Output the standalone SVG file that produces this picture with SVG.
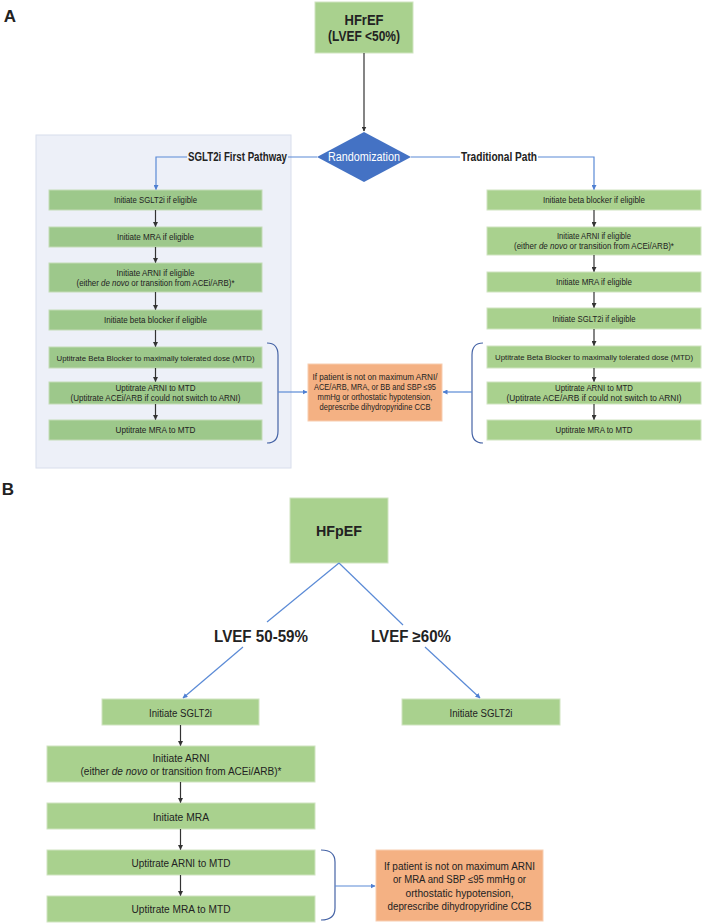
<svg xmlns="http://www.w3.org/2000/svg" width="702" height="924" viewBox="0 0 702 924">
<defs>
<marker id="ab" viewBox="0 0 10 10" refX="9" refY="5" markerWidth="5" markerHeight="5" orient="auto" markerUnits="userSpaceOnUse"><path d="M0,0 L10,5 L0,10 z" fill="#4F7FD2"/></marker>
<marker id="ad" viewBox="0 0 10 10" refX="9" refY="5" markerWidth="5" markerHeight="5" orient="auto" markerUnits="userSpaceOnUse"><path d="M0,0 L10,5 L0,10 z" fill="#333"/></marker>
<style>
text{font-family:"Liberation Sans",Arial,sans-serif;fill:#222;text-anchor:middle}
.g{fill:#A9D18E;stroke:#CFE4C0;stroke-width:1}
.gl{fill:#9DC88B;stroke:#C4DBB6;stroke-width:1}
.o{fill:#F4B183;stroke:#F8CDB0;stroke-width:1}
.s{font-size:8.5px}
.ss{font-size:8px}
.m{font-size:10px}
.b{font-weight:bold}
.bl{fill:none;stroke:#5A8AD6;stroke-width:1.2}
.bk{fill:none;stroke:#4664A6;stroke-width:1.2}
.dk{fill:none;stroke:#333;stroke-width:1.2}
</style>
</defs>
<rect width="702" height="924" fill="#fff"/>

<!-- Panel A -->
<text x="10" y="22" class="b" style="font-size:17px">A</text>
<rect id="panel" x="36" y="135" width="255" height="333" fill="#EDF0F8" stroke="#D8DEEC" stroke-width="1"/>

<g id="hfref"><rect x="315" y="2" width="98" height="51" class="g"/>
<text x="364" y="25" class="b" style="font-size:14px" textLength="39" lengthAdjust="spacingAndGlyphs">HFrEF</text>
<text x="364" y="41" class="b" style="font-size:14px" textLength="72" lengthAdjust="spacingAndGlyphs">(LVEF &lt;50%)</text></g>

<g id="rand"><polygon points="364,132 411,157 364,182 317,157" fill="#4472C4"/>
<text x="364" y="161" style="font-size:12px;fill:#fff" textLength="72" lengthAdjust="spacingAndGlyphs">Randomization</text></g>

<g id="labelsA">
<text x="237.5" y="161" class="b" style="font-size:12px" textLength="99" lengthAdjust="spacingAndGlyphs">SGLT2i First Pathway</text>
<text x="499" y="161" class="b" style="font-size:12px" textLength="76" lengthAdjust="spacingAndGlyphs">Traditional Path</text>
</g>

<!-- Left column -->
<g id="L1"><rect x="49" y="190" width="213" height="20" class="gl"/><text x="155.5" y="203" class="s" textLength="83" lengthAdjust="spacingAndGlyphs">Initiate SGLT2i if eligible</text></g>
<g id="L2"><rect x="49" y="227" width="213" height="20" class="gl"/><text x="155.5" y="240" class="s" textLength="77" lengthAdjust="spacingAndGlyphs">Initiate MRA if eligible</text></g>
<g id="L3"><rect x="49" y="263" width="213" height="29" class="gl"/><text x="155.5" y="276" class="s" textLength="78" lengthAdjust="spacingAndGlyphs">Initiate ARNI if eligible</text><text x="155.5" y="286" class="s" textLength="158" lengthAdjust="spacingAndGlyphs">(either <tspan font-style="italic">de novo</tspan> or transition from ACEi/ARB)*</text></g>
<g id="L4"><rect x="49" y="310" width="213" height="20" class="gl"/><text x="155.5" y="323" class="s" textLength="103" lengthAdjust="spacingAndGlyphs">Initiate beta blocker if eligible</text></g>
<g id="L5"><rect x="49" y="347" width="213" height="21" class="gl"/><text x="155.5" y="360.5" class="ss" textLength="198" lengthAdjust="spacingAndGlyphs">Uptitrate Beta Blocker to maximally tolerated dose (MTD)</text></g>
<g id="L6"><rect x="49" y="382" width="213" height="22" class="gl"/><text x="155.5" y="391" class="s" textLength="80" lengthAdjust="spacingAndGlyphs">Uptitrate ARNI to MTD</text><text x="155.5" y="400.5" class="s" textLength="170" lengthAdjust="spacingAndGlyphs">(Uptitrate ACEi/ARB if could not switch to ARNI)</text></g>
<g id="L7"><rect x="49" y="420" width="213" height="20" class="gl"/><text x="155.5" y="433" class="s" textLength="80" lengthAdjust="spacingAndGlyphs">Uptitrate MRA to MTD</text></g>

<!-- Right column -->
<g id="R1"><rect x="487" y="190" width="214" height="20" class="g"/><text x="594" y="203" class="s" textLength="102" lengthAdjust="spacingAndGlyphs">Initiate beta blocker if eligible</text></g>
<g id="R2"><rect x="487" y="227" width="214" height="28" class="g"/><text x="594" y="239" class="s" textLength="74" lengthAdjust="spacingAndGlyphs">Initiate ARNI if eligible</text><text x="594" y="249" class="s" textLength="160" lengthAdjust="spacingAndGlyphs">(either <tspan font-style="italic">de novo</tspan> or transition from ACEi/ARB)*</text></g>
<g id="R3"><rect x="487" y="272" width="214" height="20" class="g"/><text x="594" y="285" class="s" textLength="76" lengthAdjust="spacingAndGlyphs">Initiate MRA if eligible</text></g>
<g id="R4"><rect x="487" y="308" width="214" height="21" class="g"/><text x="594" y="321.5" class="s" textLength="83" lengthAdjust="spacingAndGlyphs">Initiate SGLT2i if eligible</text></g>
<g id="R5"><rect x="487" y="346" width="214" height="22" class="g"/><text x="594" y="360" class="ss" textLength="198" lengthAdjust="spacingAndGlyphs">Uptitrate Beta Blocker to maximally tolerated dose (MTD)</text></g>
<g id="R6"><rect x="487" y="382" width="214" height="22" class="g"/><text x="594" y="391" class="s" textLength="78" lengthAdjust="spacingAndGlyphs">Uptitrate ARNI to MTD</text><text x="594" y="400.5" class="s" textLength="175" lengthAdjust="spacingAndGlyphs">(Uptitrate ACE/ARB if could not switch to ARNI)</text></g>
<g id="R7"><rect x="487" y="420" width="214" height="20" class="g"/><text x="594" y="433" class="s" textLength="77" lengthAdjust="spacingAndGlyphs">Uptitrate MRA to MTD</text></g>

<g id="OA"><rect x="308" y="364" width="134" height="57" class="o"/>
<text x="375" y="380" style="font-size:8.5px" textLength="125" lengthAdjust="spacingAndGlyphs">If patient is not on maximum ARNI/</text>
<text x="375" y="390" style="font-size:8.5px" textLength="122" lengthAdjust="spacingAndGlyphs">ACE/ARB, MRA, or BB and SBP ≤95</text>
<text x="375" y="400" style="font-size:8.5px" textLength="115" lengthAdjust="spacingAndGlyphs">mmHg or orthostatic hypotension,</text>
<text x="375" y="410" style="font-size:8.5px" textLength="111" lengthAdjust="spacingAndGlyphs">deprescribe dihydropyridine CCB</text></g>

<!-- Panel B -->
<text x="8" y="495" class="b" style="font-size:17px">B</text>
<g id="hfpef"><rect x="290" y="498" width="98" height="65" class="g"/>
<text x="339" y="536" class="b" style="font-size:15px" textLength="46" lengthAdjust="spacingAndGlyphs">HFpEF</text></g>
<g id="labelsB">
<text x="261" y="642" class="b" style="font-size:16px" textLength="94" lengthAdjust="spacingAndGlyphs">LVEF 50-59%</text>
<text x="411" y="642" class="b" style="font-size:16px" textLength="80" lengthAdjust="spacingAndGlyphs">LVEF ≥60%</text>
</g>

<g id="B1"><rect x="102" y="699" width="157" height="26" class="g"/><text x="180.5" y="716.5" class="m" textLength="63" lengthAdjust="spacingAndGlyphs">Initiate SGLT2i</text></g>
<g id="B1r"><rect x="402" y="699" width="158" height="26" class="g"/><text x="481" y="716.5" class="m" textLength="63" lengthAdjust="spacingAndGlyphs">Initiate SGLT2i</text></g>
<g id="B2"><rect x="47" y="746" width="268" height="36" class="g"/><text x="181" y="761.5" class="m" textLength="57" lengthAdjust="spacingAndGlyphs">Initiate ARNI</text><text x="181" y="774.5" class="m" textLength="201" lengthAdjust="spacingAndGlyphs">(either <tspan font-style="italic">de novo</tspan> or transition from ACEi/ARB)*</text></g>
<g id="B3"><rect x="47" y="803" width="268" height="26" class="g"/><text x="181" y="820.5" class="m" textLength="56" lengthAdjust="spacingAndGlyphs">Initiate MRA</text></g>
<g id="B4"><rect x="47" y="850" width="268" height="25" class="g"/><text x="181" y="866.5" class="m" textLength="99" lengthAdjust="spacingAndGlyphs">Uptitrate ARNI to MTD</text></g>
<g id="B5"><rect x="47" y="896" width="268" height="26" class="g"/><text x="181" y="912.5" class="m" textLength="99" lengthAdjust="spacingAndGlyphs">Uptitrate MRA to MTD</text></g>

<g id="OB"><rect x="376" y="850" width="167" height="71" class="o"/>
<text x="459.5" y="869.5" class="m" textLength="151" lengthAdjust="spacingAndGlyphs">If patient is not on maximum ARNI</text>
<text x="459.5" y="883" class="m" textLength="133" lengthAdjust="spacingAndGlyphs">or MRA and SBP ≤95 mmHg or</text>
<text x="459.5" y="896.5" class="m" textLength="108" lengthAdjust="spacingAndGlyphs">orthostatic hypotension,</text>
<text x="459.5" y="910" class="m" textLength="144" lengthAdjust="spacingAndGlyphs">deprescribe dihydropyridine CCB</text></g>

<!-- Connectors -->
<g id="connectors">
<path class="dk" d="M364,53 V131" marker-end="url(#ad)"/>
<path class="bl" d="M317,157 H288 M187,157 H156 V189.5" marker-end="url(#ab)"/>
<path class="bl" d="M411,157 H460 M538,157 H594 V189.5" marker-end="url(#ab)"/>

<path class="dk" d="M155.5,210 V226.5" marker-end="url(#ad)"/>
<path class="dk" d="M155.5,247 V262.5" marker-end="url(#ad)"/>
<path class="dk" d="M155.5,292 V309.5" marker-end="url(#ad)"/>
<path class="dk" d="M155.5,330 V346.5" marker-end="url(#ad)"/>
<path class="dk" d="M155.5,368 V381.5" marker-end="url(#ad)"/>
<path class="dk" d="M155.5,404 V419.5" marker-end="url(#ad)"/>

<path class="dk" d="M594,210 V226.5" marker-end="url(#ad)"/>
<path class="dk" d="M594,255 V271.5" marker-end="url(#ad)"/>
<path class="dk" d="M594,292 V307.5" marker-end="url(#ad)"/>
<path class="dk" d="M594,329 V345.5" marker-end="url(#ad)"/>
<path class="dk" d="M594,368 V381.5" marker-end="url(#ad)"/>
<path class="dk" d="M594,404 V419.5" marker-end="url(#ad)"/>

<path class="bk" d="M267,343 Q278,343 278,355 V431 Q278,443 267,443"/>
<path class="bl" d="M278,392 H307" marker-end="url(#ab)"/>
<path class="bk" d="M483,343 Q472,343 472,355 V431 Q472,443 483,443"/>
<path class="bl" d="M472,392 H443" marker-end="url(#ab)"/>

<path class="bl" d="M339,563 L267,622"/>
<path class="bl" d="M243,647 L183,698" marker-end="url(#ab)"/>
<path class="bl" d="M339,563 L403,625"/>
<path class="bl" d="M425,647 L480,698" marker-end="url(#ab)"/>

<path class="dk" d="M180.5,725 V745.5" marker-end="url(#ad)"/>
<path class="dk" d="M180.5,782 V802.5" marker-end="url(#ad)"/>
<path class="dk" d="M180.5,829 V849.5" marker-end="url(#ad)"/>
<path class="dk" d="M180.5,875 V895.5" marker-end="url(#ad)"/>

<path class="bk" d="M321,850 Q335,850 335,862 V908 Q335,920 321,920"/>
<path class="bl" d="M335,886 H375" marker-end="url(#ab)"/>
</g>
</svg>
